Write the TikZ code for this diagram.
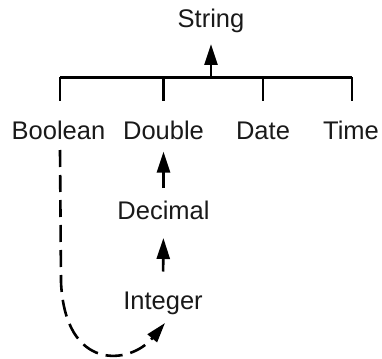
\documentclass[tikz,border=0pt]{standalone}
\usepackage{fontspec}
\setmainfont{Liberation Sans}
\usetikzlibrary{arrows.meta}
\begin{document}
\begin{tikzpicture}[x=1pt,y=-1pt,
  lbl/.style={inner sep=0pt,outer sep=0pt,text height=18pt,text depth=5pt,
    font=\fontsize{25.5}{30}\selectfont,text=black!90},
  ln/.style={line width=2.6pt,draw=black},
  arr/.style={ln,-{Triangle[length=21pt,width=13pt]}},
  darr/.style={ln,dash pattern=on 17pt off 8pt,-{Triangle[length=20pt,width=12pt]}}]
\useasboundingbox (0,0) rectangle (382,358);
\node[lbl] (str) at (211,21.5) {String};
\node[lbl] (bool) at (58.5,133) {Boolean};
\node[lbl] (dbl) at (163.5,133) {Double};
\node[lbl] (date) at (263,133) {Date};
\node[lbl] (time) at (351,133) {Time};
\node[lbl] (dec) at (163.5,212.5) {Decimal};
\node[lbl] (int) at (163,303) {Integer};
% bus
\coordinate (busL) at (60,77.5);
\coordinate (busR) at (352,77.5);
\coordinate (busM) at (211,77.5);
\draw[ln] (busL) -- (busR);
\draw[ln] (busL) -- (busL |- 0,101.5);
\draw[ln] (busL -| dbl) -- (dbl.north |- 0,101.5);
\draw[ln] (busL -| date) -- (date.north |- 0,101.5);
\draw[ln] (busR) -- (busR |- 0,101.5);
\draw[arr,shorten >=11pt] (busM) -- (str.south);
\draw[arr,shorten <=13pt,shorten >=7pt] (dec.north) -- (dbl.south);
\draw[arr,shorten <=20pt,shorten >=14pt] (int.north) -- (dec.south);
% dashed
\coordinate (dstart) at (60,150);
\coordinate (dbend) at (61,282);
\coordinate (itip) at (165,323);
\draw[darr] (dstart) -- (dbend) .. controls (65,372) and (130,365) .. (itip);
\end{tikzpicture}
\end{document}
